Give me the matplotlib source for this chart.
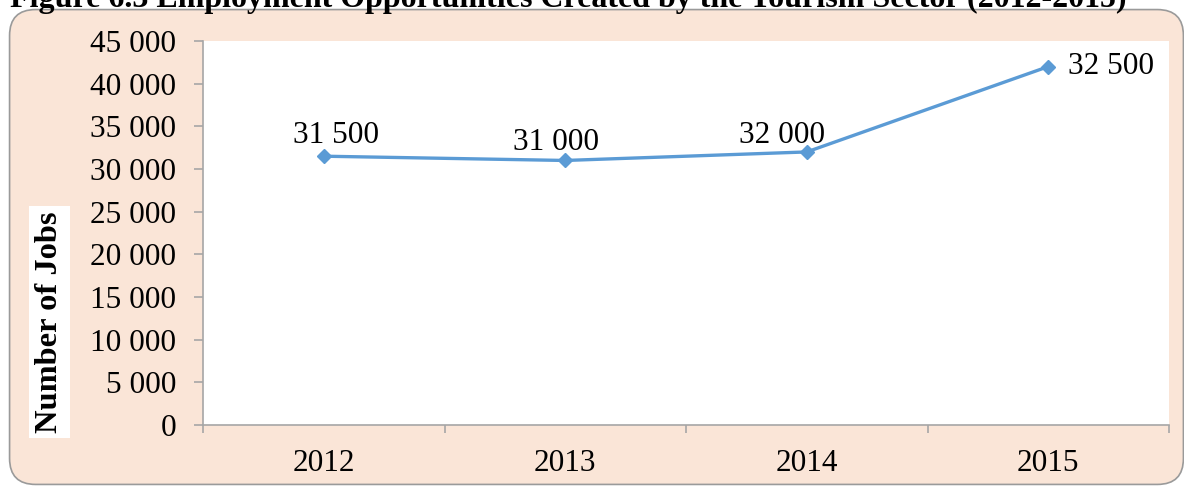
import matplotlib.pyplot as plt
from matplotlib.patches import FancyBboxPatch
from matplotlib.ticker import FuncFormatter, FixedLocator

# Data
years = ["2012", "2013", "2014", "2015"]
jobs = [31500, 31000, 32000, 42000]
# labels as printed in the source (last one does not match the plotted point)
point_labels = ["31 500", "31 000", "32 000", "32 500"]

TITLE = "Figure 6.3 Employment Opportunities Created by the Tourism Sector (2012-2015)"
LINE_COLOR = "#5B9BD5"
PANEL_COLOR = "#FAE5D7"
GRID_GRAY = "#A6A6A6"

plt.rcParams["font.family"] = ["Liberation Serif", "DejaVu Serif"]

W, H = 1184, 486
fig = plt.figure(figsize=(W / 100, H / 100), dpi=100)


def px(x0, y0, x1, y1):
    # pixel box (top-left origin) -> figure fraction rect
    return [x0 / W, 1 - y1 / H, (x1 - x0) / W, (y1 - y0) / H]


# rounded peach panel
panel = FancyBboxPatch((22 / W, 1 - 472 / H), (1171 - 22) / W, (472 - 22) / H,
                       boxstyle="round,pad=0.0105,rounding_size=0.022",
                       transform=fig.transFigure, facecolor=PANEL_COLOR,
                       edgecolor="#9A9A9A", linewidth=1.2, mutation_aspect=W / H,
                       zorder=-5)
fig.patches.append(panel)

fig.text(568 / W, 1 - 7 / H, TITLE, ha="center", va="baseline",
         fontsize=23, fontweight="bold")

ax = fig.add_axes(px(203, 41, 1169, 425))
ax.set_facecolor("white")

x = list(range(len(years)))
ax.plot(x, jobs, color=LINE_COLOR, linewidth=2.4, marker="D",
        markersize=7.5, zorder=3, clip_on=False)

# data labels (offsets in pixels, placed by hand in the source)
offsets = [(12, 13), (-9, 10), (-25, 9), (20, 0)]
for i, (lab, (dx, dy)) in enumerate(zip(point_labels, offsets)):
    if i == len(point_labels) - 1:
        ax.annotate(lab, (x[i], jobs[i]), xytext=(dx, dy), textcoords="offset pixels",
                    ha="left", va="center", fontsize=22.5)
    else:
        ax.annotate(lab, (x[i], jobs[i]), xytext=(dx, dy), textcoords="offset pixels",
                    ha="center", va="baseline", fontsize=22.5)

ax.set_xlim(-0.5, len(years) - 0.5)
ax.set_ylim(0, 45000)
ax.set_yticks(range(0, 45001, 5000))
ax.yaxis.set_major_formatter(FuncFormatter(lambda v, p: f"{v:,.0f}".replace(",", " ")))

ax.set_xticks(x)
ax.set_xticklabels(years)
ax.xaxis.set_minor_locator(FixedLocator([i - 0.5 for i in range(len(years) + 1)]))
ax.tick_params(axis="x", which="major", length=0, pad=17, labelsize=22.5)
ax.tick_params(axis="x", which="minor", length=6, color=GRID_GRAY, width=1.2)
ax.tick_params(axis="y", length=6.5, color=GRID_GRAY, width=1.2, pad=13, labelsize=22.5)

for side in ["top", "right"]:
    ax.spines[side].set_visible(False)
for side in ["left", "bottom"]:
    ax.spines[side].set_color(GRID_GRAY)
    ax.spines[side].set_linewidth(1.2)

# y label in a white box
fig.text(49.5 / W, 1 - 322 / H, "Number of Jobs", rotation=90, ha="center", va="center",
         fontsize=23.4, fontweight="bold",
         bbox=dict(facecolor="white", edgecolor="none", pad=4))

fig.savefig("out.png", dpi=100)
